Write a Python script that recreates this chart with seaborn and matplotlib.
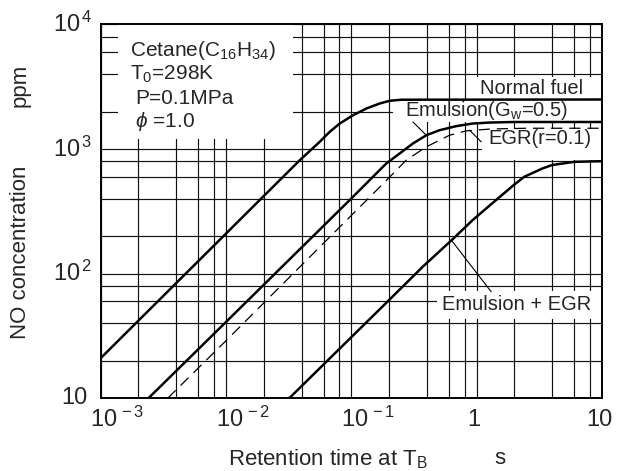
import numpy as np
import pandas as pd
import matplotlib
matplotlib.use("Agg")
import matplotlib.pyplot as plt
from matplotlib.patches import Rectangle
from matplotlib.ticker import LogLocator, NullFormatter
import seaborn as sns

# ---------------- data ----------------
t_normal = [0.001, 0.01, 0.0387, 0.0558, 0.0671, 0.0807, 0.1031, 0.1318, 0.1683, 0.2018, 0.25, 10]
no_normal = [21, 210, 813, 1142, 1374, 1603, 1869, 2117, 2322, 2440, 2490, 2500]

t_emulsion = [0.0024, 0.01, 0.0968, 0.190, 0.2427, 0.3098, 0.3963, 0.506, 0.687, 0.931, 1.265, 2.0, 10]
no_emulsion = [10, 41, 389, 767, 922, 1109, 1292, 1418, 1528, 1604, 1633, 1650, 1650]

t_egr = [0.00342, 0.01, 0.190, 0.274, 0.396, 0.607, 0.824, 1.3, 2.5, 10]
no_egr = [10, 29, 560, 815, 1042, 1292, 1400, 1450, 1470, 1470]

t_emul_egr = [0.0319, 0.1936, 0.372, 0.646, 0.931, 1.47, 2.0, 2.4, 3.36, 4.0, 6.0, 10]
no_emul_egr = [10, 59.5, 114, 190, 270, 400, 520, 600, 700, 745, 790, 800]

series_names = ["Normal fuel", "Emulsion", "EGR", "Emulsion + EGR"]

x_ticks = [1e-3, 1e-2, 1e-1, 1, 10]
x_ticklabels = [r"$10^{\,-3}$", r"$10^{\,-2}$", r"$10^{\,-1}$", "1", "10"]
y_ticks = [10, 100, 1000, 10000]
y_ticklabels = ["10", r"$10^{\,2}$", r"$10^{\,3}$", r"$10^{\,4}$"]

# ---------------- style ----------------
sns.set_theme(style="white")
plt.rcParams["font.family"] = ["Liberation Sans", "DejaVu Sans"]
plt.rcParams["mathtext.fontset"] = "custom"
plt.rcParams["mathtext.rm"] = "Liberation Sans"
plt.rcParams["mathtext.it"] = "Liberation Sans:italic"
plt.rcParams["mathtext.bf"] = "Liberation Sans:bold"
plt.rcParams["mathtext.default"] = "regular"

frames = []
for name, t, v in zip(series_names,
                      [t_normal, t_emulsion, t_egr, t_emul_egr],
                      [no_normal, no_emulsion, no_egr, no_emul_egr]):
    frames.append(pd.DataFrame({"t": t, "ppm": v, "fuel": name}))
df = pd.concat(frames, ignore_index=True)

fig = plt.figure(figsize=(6.19, 4.71), dpi=100)
ax = fig.add_axes([0.1627, 0.1544, 0.8099, 0.7936])

sns.lineplot(data=df, x="t", y="ppm", hue="fuel", style="fuel",
             palette={n: "black" for n in series_names},
             dashes={"Normal fuel": "", "Emulsion": "", "EGR": (9, 5.5),
                     "Emulsion + EGR": ""},
             sort=False, estimator=None, legend=False, ax=ax, zorder=2)
lines = ax.get_lines()
for i, line in enumerate(lines):
    line.set_linewidth(0.9 if i == 2 else 1.8)
    line.set_solid_joinstyle("round")
    line.set_dash_joinstyle("round")
    line.set_solid_capstyle("butt")

ax.set_xscale("log")
ax.set_yscale("log")
ax.set_xlim(1e-3, 10)
ax.set_ylim(10, 1e4)

ax.xaxis.set_major_locator(LogLocator(base=10, numticks=10))
ax.xaxis.set_minor_locator(LogLocator(base=10, subs=[2, 4, 6, 8], numticks=20))
ax.yaxis.set_major_locator(LogLocator(base=10, numticks=10))
ax.yaxis.set_minor_locator(LogLocator(base=10, subs=[2, 4, 6, 8], numticks=20))
ax.xaxis.set_minor_formatter(NullFormatter())
ax.yaxis.set_minor_formatter(NullFormatter())
ax.tick_params(which="both", length=0, labelbottom=False, labelleft=False)
ax.set_xlabel("")
ax.set_ylabel("")

ax.set_axisbelow(True)
ax.grid(which="both", color="#111111", linewidth=0.85)
for s in ax.spines.values():
    s.set_color("black")
    s.set_linewidth(1.4)
    s.set_visible(True)

# tick labels (placed at the tick values)
for v, lab in zip(x_ticks, x_ticklabels):
    if lab.startswith("$"):
        ax.annotate(lab, xy=(v, 0), xycoords=("data", "axes fraction"),
                    xytext=(-7.5, -6), textcoords="offset points",
                    ha="left", va="top", fontsize=17)
    else:
        ax.annotate(lab, xy=(v, 0), xycoords=("data", "axes fraction"),
                    xytext=(-2, -8), textcoords="offset points",
                    ha="center", va="top", fontsize=17)
for v, lab in zip(y_ticks, y_ticklabels):
    if lab.startswith("$"):
        ax.annotate(lab, xy=(0, v), xycoords=("axes fraction", "data"),
                    xytext=(-34.5, 0), textcoords="offset points",
                    ha="left", va="center", fontsize=17)
    else:
        ax.annotate(lab, xy=(0, v), xycoords=("axes fraction", "data"),
                    xytext=(-9.5, 0), textcoords="offset points",
                    ha="right", va="center", fontsize=17)

# white boxes that hide the grid behind the texts
boxes = [
    (0.0345, 0.694, 0.3491, 0.306),   # condition box (upper left)
    (0.742, 0.801, 0.258, 0.059),     # Normal fuel
    (0.583, 0.739, 0.417, 0.062),     # Emulsion
    (0.761, 0.638, 0.239, 0.082),     # EGR
    (0.671, 0.212, 0.329, 0.075),     # Emulsion + EGR
]
for x0, y0, w, h in boxes:
    ax.add_patch(Rectangle((x0, y0), w, h, transform=ax.transAxes,
                           facecolor="white", edgecolor="none", zorder=1))

# condition text
fs = 15
ax.text(0.0584, 0.9157, r"Cetane(C$_{16}$H$_{34}$)", transform=ax.transAxes,
        fontsize=fs, ha="left", va="baseline", zorder=4)
ax.text(0.0584, 0.8515, r"T$_0$=298K", transform=ax.transAxes,
        fontsize=fs, ha="left", va="baseline", zorder=4)
ax.text(0.0684, 0.7873, "P=0.1MPa", transform=ax.transAxes,
        fontsize=fs, ha="left", va="baseline", zorder=4)
ax.text(0.0684, 0.725, r"$\it{\phi}$ =1.0", transform=ax.transAxes,
        fontsize=fs, ha="left", va="baseline", zorder=4)

# curve labels
lfs = 14.5
ax.text(0.7566, 0.830, "Normal fuel", transform=ax.transAxes,
        fontsize=lfs, ha="left", va="center", zorder=4)
ax.text(0.607, 0.7686, r"Emulsion(G$_w$=0.5)", transform=ax.transAxes,
        fontsize=lfs, ha="left", va="center", zorder=4)
ax.text(0.773, 0.6955, "EGR(r=0.1)", transform=ax.transAxes,
        fontsize=lfs, ha="left", va="center", zorder=4)
ax.text(0.681, 0.2496, "Emulsion + EGR", transform=ax.transAxes,
        fontsize=lfs, ha="left", va="center", zorder=4)

# leader lines
lk = dict(arrowstyle="-", color="black", lw=0.8, shrinkA=0, shrinkB=0)
ax.annotate("", xy=(0.396, 1292), xytext=(0.31, 1650), arrowprops=lk, zorder=3)
ax.annotate("", xy=(0.877, 1418), xytext=(1.087, 1143), arrowprops=lk, zorder=3)
ax.annotate("", xy=(0.627, 186), xytext=(1.305, 71.6), arrowprops=lk, zorder=3)

# axis titles
fig.text(21 / 619, 1 - 252 / 471, "NO concentration", rotation=90,
         ha="center", va="center", fontsize=16)
fig.text(20.5 / 619, 1 - 85 / 471, "ppm", rotation=90,
         ha="center", va="center", fontsize=16)
fig.text(328 / 619, 1 - 459 / 471, r"Retention time at T$_B$",
         ha="center", va="center", fontsize=16)
fig.text(500 / 619, 1 - 459 / 471, "s", ha="center", va="center", fontsize=16)

fig.savefig("out.png", dpi=100)
